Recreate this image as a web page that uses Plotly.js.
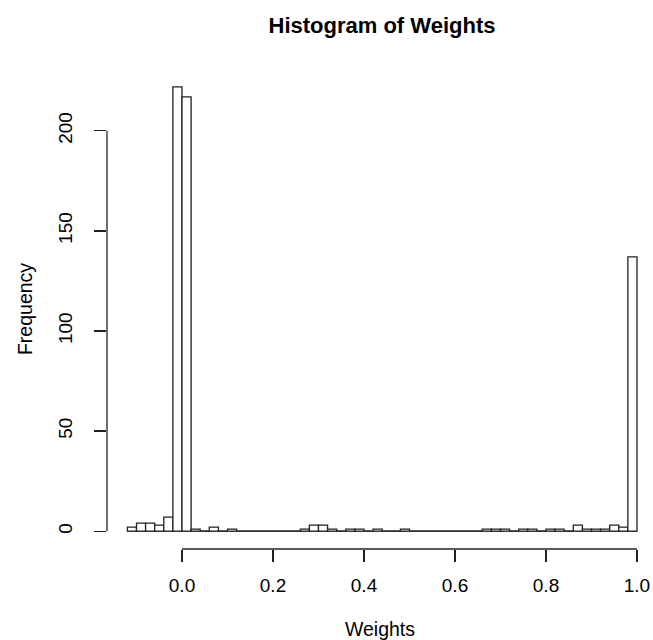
<!DOCTYPE html>
<html>
<head>
<meta charset="utf-8">
<script src="https://cdn.plot.ly/plotly-3.0.1.min.js"></script>
<style>html,body{margin:0;padding:0;background:#fff;}#chart{width:653px;height:640px;}</style>
</head>
<body>
<div id="chart"></div>
<script>
// Histogram data (R hist, breaks of width 0.02 starting at -0.12)
var binStart = -0.12;
var binWidth = 0.02;
var counts = [
  2, 4, 4, 3, 7, 222, 217, 1, 0, 2,      // -0.12 .. 0.06
  0, 1, 0, 0, 0, 0, 0, 0, 0, 1,          // 0.08 .. 0.26
  3, 3, 1, 0, 1, 1, 0, 1, 0, 0,          // 0.28 .. 0.46
  1, 0, 0, 0, 0, 0, 0, 0, 0, 1,          // 0.48 .. 0.66
  1, 1, 0, 1, 1, 0, 1, 1, 0, 3,          // 0.68 .. 0.86
  1, 1, 1, 3, 2, 137                     // 0.88 .. 0.98
];
var xTicks = [0, 0.2, 0.4, 0.6, 0.8, 1.0];
var xTickText = ["0.0", "0.2", "0.4", "0.6", "0.8", "1.0"];
var yTicks = [0, 50, 100, 150, 200];
var yTickText = ["0", "50", "100", "150", "200"];

var centers = counts.map(function(c, i){ return binStart + binWidth * (i + 0.5); });
var lastEdge = binStart + binWidth * counts.length;

var lineCol = '#222';
var font = 'Liberation Sans, Arial, Helvetica, sans-serif';

var trace = {
  type: 'bar',
  x: centers,
  y: counts,
  width: binWidth,
  marker: {color: '#ffffff', line: {color: lineCol, width: 1.3}},
  hoverinfo: 'x+y'
};

var layout = {
  width: 653, height: 640,
  margin: {l: 107, r: 0, t: 69, b: 91},
  paper_bgcolor: '#fff', plot_bgcolor: '#fff',
  showlegend: false,
  font: {family: font, size: 19, color: '#000'},
  title: {text: '<b>Histogram of Weights</b>', font: {family: font, size: 22, color: '#000'},
          x: 382/653, xanchor: 'center', xref: 'container', y: 1 - 25/640, yanchor: 'middle', yref: 'container'},
  xaxis: {
    range: [-0.16484, 1.0352], showgrid: false, zeroline: false, showline: false,
    tickmode: 'array', tickvals: xTicks, ticktext: xTickText,
    ticks: 'outside', ticklen: 12, tickwidth: 1.3, tickcolor: lineCol, ticklabelstandoff: 7,
    tickfont: {family: font, size: 19, color: '#000'},
    title: {text: 'Weights', font: {family: font, size: 19.5, color: '#000'}, standoff: 29}
  },
  yaxis: {
    range: [-8.88, 230.88], showgrid: false, zeroline: false, showline: false,
    tickmode: 'array', tickvals: yTicks, ticktext: yTickText,
    ticks: 'outside', ticklen: 12, tickwidth: 1.3, tickcolor: lineCol, tickangle: -90, ticklabelstandoff: 14,
    tickfont: {family: font, size: 19, color: '#000'},
    title: {text: 'Frequency', font: {family: font, size: 19.5, color: '#000'}, standoff: 17}
  },
  shapes: [
    {type: 'line', xref: 'x', yref: 'paper', x0: xTicks[0], x1: xTicks[xTicks.length-1], y0: 0, y1: 0,
     line: {color: lineCol, width: 1.3}},
    {type: 'line', xref: 'paper', yref: 'y', x0: 0, x1: 0, y0: yTicks[0], y1: yTicks[yTicks.length-1],
     line: {color: lineCol, width: 1.3}},
    {type: 'line', xref: 'x', yref: 'y', x0: binStart, x1: lastEdge, y0: 0, y1: 0,
     line: {color: lineCol, width: 1.3}, layer: 'below'}
  ]
};

Plotly.newPlot('chart', [trace], layout, {displayModeBar: false, staticPlot: true});
</script>
</body>
</html>
